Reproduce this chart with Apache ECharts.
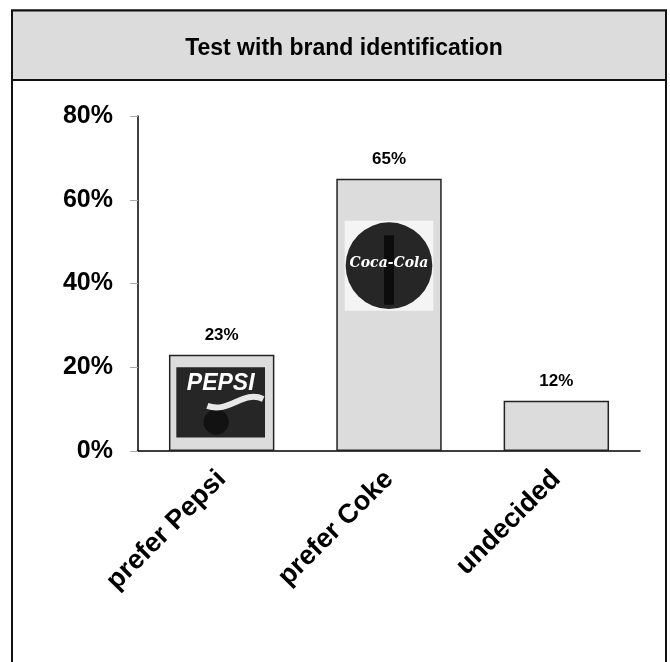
<!DOCTYPE html>
<html>
<head>
<meta charset="utf-8">
<script src="https://cdn.jsdelivr.net/npm/echarts@6/dist/echarts.min.js"></script>
<style>
  html, body { margin: 0; padding: 0; background: #fff; }
  #main { width: 670px; height: 662px; }
</style>
</head>
<body>
<div id="main"></div>
<script>
// data
var categories = ['prefer Pepsi', 'prefer Coke', 'undecided'];
var shares = [23, 65, 12];
var yTicks = [0, 20, 40, 60, 80];
// logo boxes in axis units: [category index, top value, bottom value]
var logos = [[0, 20, 3.2, 'pepsi'], [1, 55, 33.5, 'coke']];

var chart = echarts.init(document.getElementById('main'));

var FONT = 'Liberation Sans, Arial, sans-serif';

function renderLogo(params, api) {
    var idx = api.value(0);
    var top = api.coord([idx, api.value(1)]);
    var bottom = api.coord([idx, api.value(2)]);
    var band = api.size([1, 0])[0];
    var kind = logos[params.dataIndex][3];
    var h = bottom[1] - top[1];
    var children = [];
    if (kind === 'pepsi') {
        var w = band * 0.53;
        var x = top[0] - w / 2 - 1;
        children.push({
            type: 'rect',
            shape: { x: x, y: top[1], width: w, height: h },
            style: { fill: '#262626' }
        });
        children.push({
            type: 'circle',
            shape: { cx: x + w * 0.45, cy: top[1] + h * 0.78, r: h * 0.18 },
            style: { fill: '#121212' }
        });
        children.push({
            type: 'text',
            style: {
                x: x + w / 2, y: top[1] + h * 0.24, text: 'PEPSI',
                fill: '#fff', font: 'italic bold 23px ' + FONT,
                align: 'center', verticalAlign: 'middle'
            }
        });
        children.push({
            type: 'bezierCurve',
            shape: {
                x1: x + w * 0.35, y1: top[1] + h * 0.55,
                x2: x + w * 0.98, y2: top[1] + h * 0.45,
                cpx1: x + w * 0.6, cpy1: top[1] + h * 0.66,
                cpx2: x + w * 0.75, cpy2: top[1] + h * 0.32
            },
            style: { stroke: '#e8e8e8', lineWidth: 6, fill: null }
        });
    } else {
        var w2 = band * 0.53;
        var x2 = top[0] - w2 / 2;
        var cx = x2 + w2 / 2, cy = top[1] + h / 2, r = Math.min(w2, h) / 2 - 1;
        children.push({
            type: 'rect',
            shape: { x: x2, y: top[1], width: w2, height: h },
            style: { fill: '#f4f4f4' }
        });
        children.push({
            type: 'circle',
            shape: { cx: cx, cy: cy, r: r },
            style: { fill: '#262626' }
        });
        children.push({
            type: 'rect',
            shape: { x: cx - 5, y: cy - r * 0.7, width: 10, height: r * 1.6 },
            style: { fill: '#0c0c0c' }
        });
        children.push({
            type: 'text',
            style: {
                x: cx, y: cy - 2, text: 'Coca-Cola',
                fill: '#fff', font: 'italic bold 14px "DejaVu Serif", serif',
                align: 'center', verticalAlign: 'middle'
            }
        });
    }
    return { type: 'group', children: children };
}

chart.setOption({
    animation: false,
    backgroundColor: '#fff',
    graphic: [{
        type: 'rect',
        shape: { x: 12, y: 10.5, width: 654, height: 700 },
        style: { fill: '#fff', stroke: '#111', lineWidth: 2 },
        z: -10
    }, {
        type: 'rect',
        shape: { x: 12, y: 10.5, width: 654, height: 69.5 },
        style: { fill: '#dcdcdc', stroke: '#111', lineWidth: 2 },
        z: -9
    }],
    title: {
        text: 'Test with brand identification',
        left: 339,
        top: 32,
        textAlign: 'center',
        textStyle: {
            fontFamily: FONT,
            fontWeight: 'bold',
            fontSize: 23,
            color: '#000'
        }
    },
    grid: {
        left: 138,
        right: 30,
        top: 116,
        bottom: 211,
        containLabel: false
    },
    xAxis: {
        type: 'category',
        data: categories,
        axisLine: { lineStyle: { color: '#000', width: 1.5 } },
        axisTick: { show: false },
        axisLabel: {
            rotate: 45,
            interval: 0,
            margin: 24,
            fontFamily: FONT,
            fontWeight: 'bold',
            fontSize: 27,
            color: '#000'
        }
    },
    yAxis: {
        type: 'value',
        min: yTicks[0],
        max: yTicks[yTicks.length - 1],
        interval: 20,
        axisLine: { show: true, lineStyle: { color: '#000', width: 1.5 } },
        axisTick: { show: true, length: 8, lineStyle: { color: '#aaa' } },
        splitLine: { show: false },
        axisLabel: {
            margin: 25,
            formatter: '{value}%',
            fontFamily: FONT,
            fontWeight: 'bold',
            fontSize: 25,
            color: '#000'
        }
    },
    series: [{
        type: 'bar',
        data: shares,
        barWidth: '63%',
        itemStyle: {
            color: '#dcdcdc',
            borderColor: '#222',
            borderWidth: 1.5
        },
        label: {
            show: true,
            position: 'top',
            distance: 11,
            formatter: '{c}%',
            fontFamily: FONT,
            fontWeight: 'bold',
            fontSize: 17,
            color: '#000'
        }
    }, {
        type: 'custom',
        renderItem: renderLogo,
        data: logos.map(function (d) { return [d[0], d[1], d[2]]; }),
        z: 5,
        silent: true
    }]
});
window.onresize = chart.resize;
</script>
</body>
</html>
